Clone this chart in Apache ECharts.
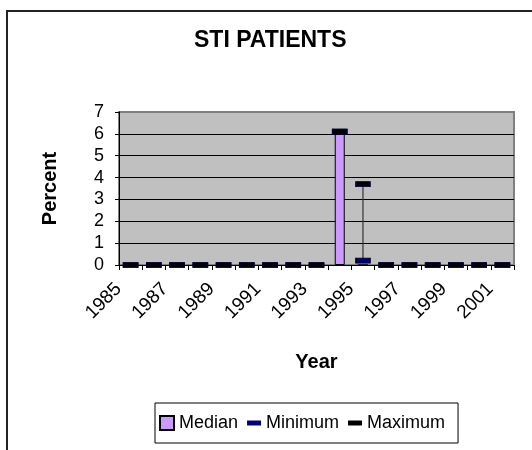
<!DOCTYPE html>
<html>
<head>
<meta charset="utf-8">
<title>STI PATIENTS</title>
<script src="https://cdn.jsdelivr.net/npm/echarts@6/dist/echarts.min.js"></script>
<style>
  html, body { margin: 0; padding: 0; background: #fff; }
  #chart { width: 532px; height: 450px; }
</style>
</head>
<body>
<div id="chart"></div>
<script>
  // data
  const years = ['1985', '1986', '1987', '1988', '1989', '1990', '1991', '1992', '1993',
    '1994', '1995', '1996', '1997', '1998', '1999', '2000', '2001'];
  const median = [0, 0, 0, 0, 0, 0, 0, 0, 0, 6, 0, 0, 0, 0, 0, 0, 0];
  const minimum = [0, 0, 0, 0, 0, 0, 0, 0, 0, 6.1, 0.2, 0, 0, 0, 0, 0, 0];
  const maximum = [0, 0, 0, 0, 0, 0, 0, 0, 0, 6.1, 3.7, 0, 0, 0, 0, 0, 0];
  const yMin = 0, yMax = 7, yStep = 1;

  const font = "'Liberation Sans', Arial, sans-serif";
  const dash = 'path://M0,0h14v5h-14z';

  let myChart = echarts.init(document.getElementById('chart'), null, { renderer: 'canvas' });

  myChart.setOption({
    backgroundColor: '#fff',
    animation: false,
    title: {
      text: 'STI PATIENTS',
      left: 194,
      top: 29,
      padding: 0,
      textStyle: { fontFamily: font, fontSize: 23, fontWeight: 'bold', color: '#000' }
    },
    graphic: [{
      // outer chart frame (right/bottom edges fall outside the picture)
      type: 'rect',
      z: -10,
      silent: true,
      shape: { x: 7, y: 11, width: 700, height: 600 },
      style: { fill: 'transparent', stroke: '#222', lineWidth: 2 }
    }],
    legend: {
      left: 155,
      top: 403,
      orient: 'horizontal',
      padding: [11, 13, 11, 4],
      itemGap: 9,
      itemWidth: 14,
      itemHeight: 14,
      symbolKeepAspect: true,
      borderColor: '#000',
      borderWidth: 1,
      backgroundColor: '#fff',
      textStyle: { fontFamily: font, fontSize: 18, color: '#000' },
      data: [
        { name: 'Median', icon: 'rect' },
        { name: 'Minimum', icon: dash, itemStyle: { borderWidth: 0 } },
        { name: 'Maximum', icon: dash, itemStyle: { borderWidth: 0 } }
      ]
    },
    grid: {
      left: 119,
      right: 18,
      top: 112,
      bottom: 185,
      show: true,
      backgroundColor: '#C0C0C0',
      borderColor: '#808080',
      borderWidth: 2
    },
    xAxis: {
      type: 'category',
      data: years,
      boundaryGap: true,
      name: 'Year',
      nameLocation: 'middle',
      nameGap: 87,
      nameTextStyle: { fontFamily: font, fontSize: 20, fontWeight: 'bold', color: '#000' },
      axisLine: { show: true, lineStyle: { color: '#000', width: 1 } },
      axisTick: { show: true, interval: 0, length: 5, lineStyle: { color: '#000' } },
      axisLabel: {
        interval: 1,
        rotate: 45,
        margin: 9,
        padding: [0, 17, 0, 0],
        fontFamily: font,
        fontSize: 19,
        color: '#000'
      },
      splitLine: { show: false }
    },
    yAxis: {
      type: 'value',
      min: yMin,
      max: yMax,
      interval: yStep,
      name: 'Percent',
      nameLocation: 'middle',
      nameGap: 59,
      nameTextStyle: { fontFamily: font, fontSize: 20, fontWeight: 'bold', color: '#000' },
      axisLine: { show: true, lineStyle: { color: '#000', width: 1 } },
      axisTick: { show: true, length: 4, lineStyle: { color: '#000' } },
      axisLabel: { margin: 15, fontFamily: font, fontSize: 18, color: '#000' },
      splitLine: {
        show: true,
        showMinLine: false,
        showMaxLine: false,
        lineStyle: { color: '#000', width: 1 }
      }
    },
    series: [
      {
        name: 'Median',
        type: 'bar',
        data: median,
        barWidth: 10,
        itemStyle: { color: '#CC99FF', borderColor: '#000', borderWidth: 1 },
        z: 2
      },
      {
        // high-low line between minimum and maximum
        type: 'custom',
        data: years.map((y, i) => [i, minimum[i], maximum[i]]),
        renderItem: function (params, api) {
          let lo = api.coord([api.value(0), api.value(1)]);
          let hi = api.coord([api.value(0), api.value(2)]);
          return {
            type: 'line',
            shape: { x1: lo[0], y1: lo[1], x2: hi[0], y2: hi[1] },
            style: { stroke: '#333', lineWidth: 1.2 }
          };
        },
        z: 3,
        silent: true
      },
      {
        name: 'Minimum',
        type: 'scatter',
        data: minimum,
        symbol: 'rect',
        symbolSize: [14, 5],
        itemStyle: { color: '#000080', borderColor: '#000', borderWidth: 1, opacity: 1 },
        z: 4
      },
      {
        name: 'Maximum',
        type: 'scatter',
        data: maximum,
        symbol: 'rect',
        symbolSize: [14, 5],
        itemStyle: { color: '#000', borderColor: '#000040', borderWidth: 1, opacity: 1 },
        z: 5
      }
    ]
  });

  window.onresize = function () {
    myChart.resize();
  };
</script>
</body>
</html>
